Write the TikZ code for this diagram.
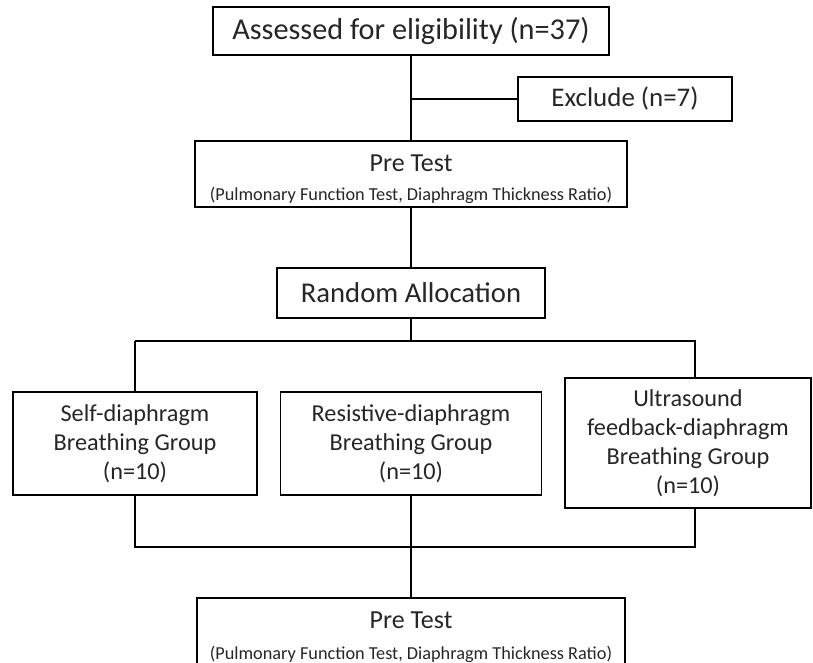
\documentclass[tikz,border=0pt]{standalone}
\usepackage{fontspec}
\setmainfont{Carlito}
\tikzstyle{box}=[draw=black,line width=1.4pt,rectangle,align=center,inner sep=0pt,text=black!85]
\tikzstyle{groupbox}=[box,font=\fontsize{18.2}{21.7}\selectfont]
\tikzstyle{link}=[line width=1.4pt]

\begin{document}
\begin{tikzpicture}[x=0.75pt,y=-0.75pt]
    \useasboundingbox (0,0) rectangle (813,662);
    \node[box,minimum width=297pt,minimum height=36pt,font=\fontsize{22.7}{26}\selectfont] (assess) at (411,31) {Assessed for eligibility (n=37)};
    \node[box,minimum width=160.5pt,minimum height=33pt,font=\fontsize{20.2}{24}\selectfont] (exclude) at (625,99) {Exclude (n=7)};
    \node[box,minimum width=324pt,minimum height=49.5pt,font=\fontsize{13.7}{21.7}\selectfont] (pre) at (411,174) {{\fontsize{19.5}{21.7}\selectfont\rule{0pt}{21pt}Pre Test}\\(Pulmonary Function Test, Diaphragm Thickness Ratio)};
    \node[box,minimum width=201pt,minimum height=37.5pt,font=\fontsize{21.5}{25}\selectfont] (alloc) at (411,293) {Random Allocation};
    \node[groupbox,minimum width=183pt,minimum height=77.25pt] (g1) at (135,443.5) {Self-diaphragm\\Breathing Group\\(n=10)};
    \node[groupbox,minimum width=195.75pt,minimum height=77.25pt] (g2) at (411,443.5) {Resistive-diaphragm\\Breathing Group\\(n=10)};
    \node[groupbox,minimum width=184.5pt,minimum height=97.5pt] (g3) at (688,443) {Ultrasound\\feedback-diaphragm\\Breathing Group\\(n=10)};
    \node[box,minimum width=321pt,minimum height=58.5pt,anchor=north,font=\fontsize{13.7}{23}\selectfont] (post) at (411,597) {{\fontsize{19.5}{23}\selectfont Pre Test}\\(Pulmonary Function Test, Diaphragm Thickness Ratio)};

    \coordinate (s1) at (135,341);
    \coordinate (s3) at (695,341);
    \coordinate (m1) at (135,547);
    \coordinate (m3) at (695,547);

    \foreach \from/\to in {assess/pre,pre/alloc,g2/post,s1/g1}
    \draw[link] (\from) -- (\to);
    \draw[link] (exclude.west) -- (exclude.west -| assess);
    \draw[link] (alloc) -- (alloc |- s1);
    \draw[link] (s1) -- (s3) -- (s3 |- g3.north);
    \draw[link] (g1) -- (m1) -- (m3) -- (m3 |- g3.south);
\end{tikzpicture}
\end{document}
